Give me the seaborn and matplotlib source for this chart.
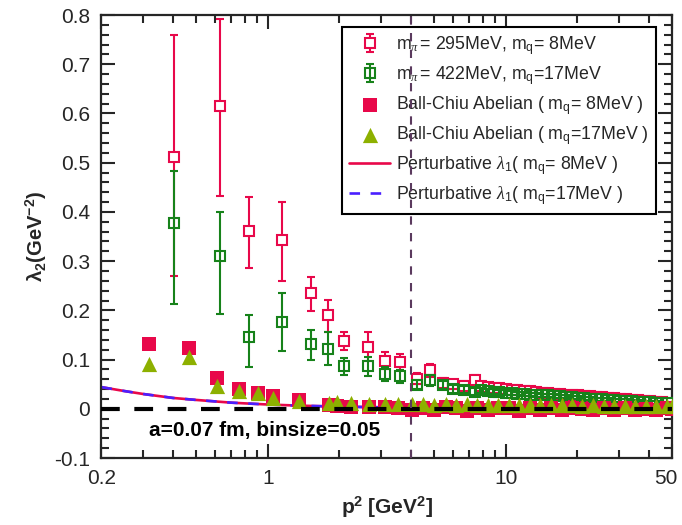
import numpy as np
import matplotlib
matplotlib.use("Agg")
import matplotlib.pyplot as plt
import matplotlib.ticker as mticker
import matplotlib.transforms as mtransforms
import seaborn as sns

# ---------------- data ----------------
p2_lat = [0.403, 0.631, 0.836, 1.151, 1.52, 1.796, 2.10, 2.63, 3.11, 3.61, 4.22, 4.80, 5.43, 6.03, 6.71, 7.45,
          7.9, 8.4, 8.9, 9.4, 10.0, 10.6, 11.2, 11.9, 12.6, 13.4, 14.2, 15.0, 15.9, 16.9, 17.9, 19.0,
          20.1, 21.3, 22.6, 24.0, 25.4, 26.9, 28.5, 30.2, 32.0, 34.0, 36.0, 38.2, 40.5, 42.9, 45.5, 48.2]

lam_295 = [0.511, 0.616, 0.362, 0.342, 0.235, 0.190, 0.137, 0.125, 0.098, 0.095, 0.061, 0.078, 0.053, 0.050, 0.047, 0.058,
           0.046, 0.044, 0.043, 0.042, 0.041, 0.039, 0.038, 0.036, 0.036, 0.034, 0.033, 0.032, 0.031, 0.030, 0.029, 0.028,
           0.027, 0.026, 0.025, 0.024, 0.023, 0.022, 0.021, 0.020, 0.019, 0.018, 0.017, 0.016, 0.015, 0.014, 0.013, 0.012]
err_295_lo = [0.241, 0.184, 0.076, 0.083, 0.036, 0.035, 0.018, 0.028, 0.018, 0.017, 0.011, 0.014, 0.010, 0.009, 0.009, 0.011,
              0.007, 0.007, 0.007, 0.006, 0.006, 0.006, 0.006, 0.006, 0.005, 0.005, 0.005, 0.005, 0.005, 0.005, 0.005, 0.005,
              0.004, 0.004, 0.004, 0.004, 0.004, 0.004, 0.004, 0.004, 0.004, 0.004, 0.004, 0.004, 0.004, 0.004, 0.004, 0.004]
err_295_hi = [0.248, 0.176, 0.069, 0.079, 0.033, 0.032, 0.019, 0.032, 0.018, 0.017, 0.011, 0.014, 0.010, 0.009, 0.009, 0.011,
              0.007, 0.007, 0.007, 0.006, 0.006, 0.006, 0.006, 0.006, 0.005, 0.005, 0.005, 0.005, 0.005, 0.005, 0.005, 0.005,
              0.004, 0.004, 0.004, 0.004, 0.004, 0.004, 0.004, 0.004, 0.004, 0.004, 0.004, 0.004, 0.004, 0.004, 0.004, 0.004]

lam_422 = [0.378, 0.310, 0.146, 0.176, 0.132, 0.122, 0.086, 0.086, 0.071, 0.066, 0.049, 0.058, 0.049, 0.041, 0.039, 0.035,
           0.038, 0.036, 0.035, 0.034, 0.033, 0.032, 0.031, 0.030, 0.029, 0.028, 0.027, 0.027, 0.026, 0.025, 0.024, 0.023,
           0.022, 0.021, 0.020, 0.019, 0.019, 0.018, 0.017, 0.016, 0.016, 0.015, 0.014, 0.013, 0.013, 0.012, 0.011, 0.011]
err_422_lo = [0.165, 0.118, 0.061, 0.059, 0.032, 0.034, 0.017, 0.019, 0.014, 0.013, 0.009, 0.011, 0.008, 0.008, 0.007, 0.007,
              0.005, 0.005, 0.005, 0.005, 0.005, 0.004, 0.004, 0.004, 0.004, 0.004, 0.004, 0.004, 0.004, 0.004, 0.003, 0.003,
              0.003, 0.003, 0.003, 0.003, 0.003, 0.003, 0.003, 0.003, 0.003, 0.003, 0.003, 0.003, 0.003, 0.003, 0.003, 0.003]
err_422_hi = [0.105, 0.090, 0.044, 0.059, 0.029, 0.035, 0.017, 0.019, 0.014, 0.013, 0.009, 0.011, 0.008, 0.008, 0.007, 0.007,
              0.005, 0.005, 0.005, 0.005, 0.005, 0.004, 0.004, 0.004, 0.004, 0.004, 0.004, 0.004, 0.004, 0.004, 0.003, 0.003,
              0.003, 0.003, 0.003, 0.003, 0.003, 0.003, 0.003, 0.003, 0.003, 0.003, 0.003, 0.003, 0.003, 0.003, 0.003, 0.003]

p2_bc = [0.318, 0.467, 0.614, 0.759, 0.912, 1.055, 1.357, 1.81, 1.95, 2.23, 2.67, 3.11, 3.54, 4.03, 4.5, 5.0,
         5.6, 6.2, 6.9, 7.6, 8.4, 9.3, 10.3, 11.4, 12.6, 14.0, 15.5, 17.2, 19.0, 21.0, 23.3, 25.8,
         28.5, 31.6, 35.0, 38.7, 42.9, 47.5, 50.0]
bc_8 = [0.131, 0.123, 0.062, 0.041, 0.033, 0.026, 0.017, 0.0075, 0.006, 0.004, 0.003, 0.004, 0.002, -0.003, 0.002, -0.002,
        0.003, 0.001, -0.004, 0.002, -0.003, 0.001, 0.002, -0.004, 0.001, -0.002, 0.002, -0.003, 0.001, 0.000, -0.003, 0.001,
        -0.002, 0.001, -0.003, 0.000, -0.002, 0.001, -0.001]
bc_17 = [0.091, 0.105, 0.047, 0.037, 0.032, 0.022, 0.016, 0.012, 0.014, 0.011, 0.010, 0.010, 0.009, 0.010, 0.009, 0.008,
         0.009, 0.008, 0.009, 0.008, 0.008, 0.007, 0.008, 0.007, 0.008, 0.007, 0.007, 0.007, 0.007, 0.006, 0.007, 0.006,
         0.006, 0.006, 0.006, 0.006, 0.005, 0.005, 0.005]

p2_pert = [0.2, 0.25, 0.3, 0.4, 0.5, 0.6, 0.7, 0.8, 1.0, 1.3, 1.6, 2.0, 3.0, 4.0, 6.0, 10.0, 20.0, 50.0]
pert_8 = [0.044, 0.036, 0.030, 0.022, 0.018, 0.015, 0.0125, 0.011, 0.0087, 0.0067, 0.0055, 0.0044, 0.0030, 0.0022,
          0.0015, 0.0009, 0.00045, 0.0002]
pert_17 = [0.044, 0.036, 0.030, 0.022, 0.018, 0.015, 0.0125, 0.011, 0.0087, 0.0067, 0.0055, 0.0044, 0.0030, 0.0022,
           0.0015, 0.0009, 0.00045, 0.0002]

xtick_vals = [0.2, 1, 10, 50]
xtick_labels = ["0.2", "1", "10", "50"]
ytick_vals = [-0.1, 0, 0.1, 0.2, 0.3, 0.4, 0.5, 0.6, 0.7, 0.8]
ytick_labels = ["-0.1", "0", "0.1", "0.2", "0.3", "0.4", "0.5", "0.6", "0.7", "0.8"]

# ---------------- style ----------------
sns.set_theme(style="ticks")
plt.rcParams["font.family"] = ["Liberation Sans", "DejaVu Sans"]
plt.rcParams["mathtext.fontset"] = "custom"
plt.rcParams["mathtext.rm"] = "Liberation Sans"
plt.rcParams["mathtext.it"] = "Liberation Serif:italic"
plt.rcParams["mathtext.bf"] = "Liberation Sans:bold"
plt.rcParams["axes.unicode_minus"] = False

RED = "#E8084A"
GREEN = "#17821A"
OLIVE = "#8DB000"
BLUE = "#4A1FFF"
AXC = "#262626"

fig = plt.figure(figsize=(6.82, 5.25), dpi=100)
ax = fig.add_axes([0.1488, 0.1276, 0.8365, 0.8438])
ax.set_xscale("log")

# perturbative curves
l1, = ax.plot(p2_pert, pert_8, color=RED, lw=1.9, zorder=2)
l2, = ax.plot(p2_pert, pert_17, color=BLUE, lw=1.9, ls=(0, (4, 4)), zorder=2.1)

# lattice data
e1 = ax.errorbar(p2_lat, lam_295, yerr=[err_295_lo, err_295_hi], fmt="s", mfc="white", mec=RED,
                 ms=7.5, mew=1.5, ecolor=RED, elinewidth=1.5, capsize=2.6, capthick=1.5, zorder=3)
e2 = ax.errorbar(p2_lat, lam_422, yerr=[err_422_lo, err_422_hi], fmt="s", mfc="none", mec=GREEN,
                 ms=7.5, mew=1.5, ecolor=GREEN, elinewidth=1.5, capsize=2.6, capthick=1.5, zorder=3.1)

# Ball-Chiu
sns.scatterplot(x=p2_bc, y=bc_8, marker="s", s=90, color=RED, linewidth=0, ax=ax, zorder=4, legend=False)
s1 = ax.collections[-1]
sns.scatterplot(x=p2_bc, y=bc_17, marker="^", s=120, color=OLIVE, linewidth=0, ax=ax, zorder=4.1, legend=False)
s2 = ax.collections[-1]

# reference lines
ax.axhline(0, color="black", lw=3, ls=(0, (4.5, 3.5)), zorder=5)
ax.axvline(4, color="#5B3A5E", lw=1.5, ls=(0, (4, 4)), zorder=6)

ax.set_xlim(0.2, 50)
ax.set_ylim(-0.1, 0.8)
ax.xaxis.set_major_locator(mticker.FixedLocator(xtick_vals))
ax.xaxis.set_major_formatter(mticker.FixedFormatter(xtick_labels))
ax.xaxis.set_minor_locator(mticker.FixedLocator([0.3, 0.4, 0.5, 0.6, 0.7, 0.8, 0.9, 2, 3, 4, 5, 6, 7, 8, 9, 20, 30, 40]))
ax.xaxis.set_minor_formatter(mticker.NullFormatter())
ax.yaxis.set_major_locator(mticker.FixedLocator(ytick_vals))
ax.yaxis.set_major_formatter(mticker.FixedFormatter(ytick_labels))
ax.yaxis.set_minor_locator(mticker.MultipleLocator(0.02))

ax.tick_params(which="both", direction="in", top=True, right=True, colors=AXC, labelsize=15, width=1.5)
ax.tick_params(which="major", length=10, pad=8)
ax.tick_params(which="minor", length=5.5)
for sp in ax.spines.values():
    sp.set_color(AXC)
    sp.set_linewidth(1.6)

# nudge the last x tick label ("50") slightly left so it stays inside the figure
fig.canvas.draw()
last_lbl = ax.get_xticklabels()[-1]
last_lbl.set_transform(last_lbl.get_transform() + mtransforms.ScaledTranslation(-6 / 100, 0, fig.dpi_scale_trans))

ax.set_xlabel(r"$\mathbf{p^2\ [GeV^2]}$", fontsize=15, color=AXC, labelpad=4)
ax.set_ylabel(r"$\mathbf{λ_2(GeV^{-2})}$", fontsize=14.5, color=AXC, labelpad=4)

ax.text(0.083, 0.062, "a=0.07 fm, binsize=0.05", transform=ax.transAxes, fontsize=15,
        fontweight="bold", color="black", va="center", ha="left")

handles = [e1, e2, s1, s2, l1, l2]
labels = [r"m$_{\pi}\,$= 295MeV, m$_{\rm q}$= 8MeV",
          r"m$_{\pi}\,$= 422MeV, m$_{\rm q}$=17MeV",
          r"Ball-Chiu Abelian ( m$_{\rm q}$= 8MeV )",
          r"Ball-Chiu Abelian ( m$_{\rm q}$=17MeV )",
          r"Perturbative $\lambda_{\rm 1}$( m$_{\rm q}$= 8MeV )",
          r"Perturbative $\lambda_{\rm 1}$( m$_{\rm q}$=17MeV )"]
leg = ax.legend(handles, labels, loc="upper right", bbox_to_anchor=(0.972, 0.973), fontsize=12.8,
                frameon=True, fancybox=False, framealpha=1, edgecolor="black", borderpad=0.4,
                labelspacing=0.4, handlelength=2.3, handletextpad=0.35, borderaxespad=0)
leg.get_frame().set_linewidth(1.5)

fig.savefig("out.png", dpi=100)
